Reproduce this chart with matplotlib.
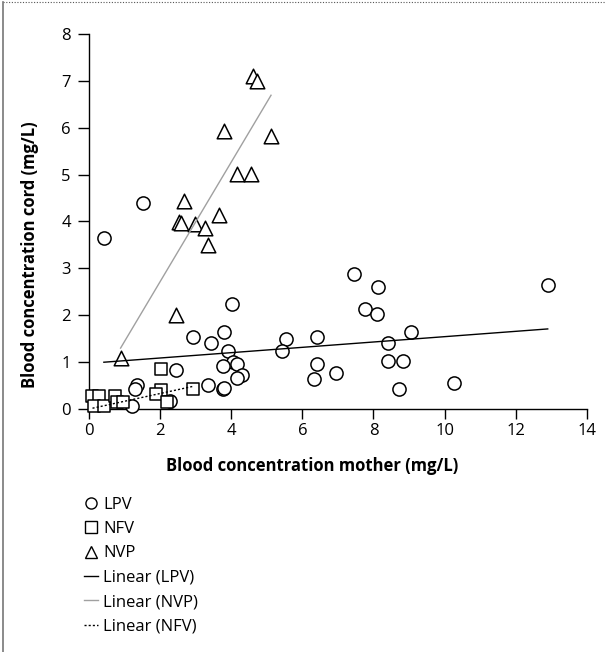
import numpy as np
import matplotlib
matplotlib.use("Agg")
import matplotlib.pyplot as plt
from matplotlib.lines import Line2D

plt.rcParams['font.family'] = ['Open Sans', 'DejaVu Sans']

# LPV: mother vs cord blood concentration (mg/L)
lpv_mother = [0.42, 1.53, 4.03, 2.93, 3.44, 3.81, 3.91, 4.04, 4.15, 3.76, 4.30, 4.15,
              2.44, 3.34, 3.76, 3.81, 1.36, 1.30, 2.28, 1.21, 5.55, 5.44, 6.41, 6.42,
              6.33, 6.94, 7.44, 8.14, 7.76, 8.11, 12.9, 9.05, 8.41, 8.41, 8.83, 8.73, 10.26]
lpv_cord = [3.64, 4.39, 2.24, 1.53, 1.40, 1.65, 1.24, 1.01, 0.96, 0.92, 0.73, 0.66,
            0.83, 0.51, 0.43, 0.45, 0.52, 0.43, 0.18, 0.07, 1.49, 1.24, 1.53, 0.96,
            0.63, 0.76, 2.89, 2.61, 2.13, 2.03, 2.64, 1.65, 1.41, 1.03, 1.03, 0.43, 0.55]

# NFV
nfv_mother = [0.10, 0.27, 0.15, 0.43, 0.74, 0.78, 0.96, 2.04, 2.04, 1.88, 2.20, 2.92]
nfv_cord = [0.27, 0.27, 0.06, 0.06, 0.27, 0.14, 0.14, 0.85, 0.40, 0.31, 0.14, 0.42]

# NVP
nvp_mother = [4.61, 4.73, 3.81, 5.12, 4.15, 4.56, 2.67, 3.66, 2.52, 2.59, 2.99, 3.27,
              3.34, 2.45, 0.89]
nvp_cord = [7.10, 7.00, 5.93, 5.82, 5.02, 5.02, 4.44, 4.13, 3.99, 3.96, 3.94, 3.86,
            3.50, 2.01, 1.08]

# linear trendlines (slope, intercept) as shown
fit_lpv = (0.0569, 0.974)
fit_nvp = (1.275, 0.165)
fit_nfv = (0.165, 0.0)

fig = plt.figure(figsize=(6.05, 6.52), dpi=100)
ax = fig.add_axes([0.147, 0.3727, 0.823, 0.5752])

mk = dict(facecolor='white', edgecolor='black', linewidths=1.1, zorder=3, clip_on=False)
ax.scatter(lpv_mother, lpv_cord, marker='o', s=90, **mk)
ax.scatter(nfv_mother, nfv_cord, marker='s', s=85, **mk)
ax.scatter(nvp_mother, nvp_cord, marker='^', s=110, **mk)


def trend(xs, fit, **kw):
    xx = np.array([min(xs), max(xs)])
    ax.plot(xx, fit[0] * xx + fit[1], zorder=4, clip_on=False, **kw)


trend(lpv_mother, fit_lpv, color='black', lw=1.0)
trend(nvp_mother, fit_nvp, color='#a0a0a0', lw=1.0)
trend(nfv_mother, fit_nfv, color='black', lw=1.0, ls=(0, (1.5, 1.5)))

ax.set_xlim(0, 14)
ax.set_ylim(0, 8)
ax.set_xticks(range(0, 15, 2))
ax.set_yticks(range(0, 9))
for s in ['top', 'right']:
    ax.spines[s].set_visible(False)
for s in ['left', 'bottom']:
    ax.spines[s].set_linewidth(1.0)
ax.tick_params(axis='y', direction='out', length=8, width=1.0, labelsize=12, pad=5)
ax.tick_params(axis='x', direction='out', length=7, width=1.0, labelsize=12, pad=3)
ax.set_xlabel('Blood concentration mother (mg/L)', fontsize=12, fontweight='bold', va='center')
ax.set_ylabel('Blood concentration cord (mg/L)', fontsize=12, fontweight='bold', va='center')
ax.xaxis.set_label_coords(0.448, -0.152)
ax.yaxis.set_label_coords(-0.118, 0.411)

handles = [
    Line2D([], [], marker='o', ls='none', mfc='white', mec='black', ms=8, mew=1.0),
    Line2D([], [], marker='s', ls='none', mfc='white', mec='black', ms=8, mew=1.0),
    Line2D([], [], marker='^', ls='none', mfc='white', mec='black', ms=8, mew=1.0),
    Line2D([], [], color='black', lw=1.0),
    Line2D([], [], color='#a0a0a0', lw=1.0),
    Line2D([], [], color='black', lw=1.0, ls=(0, (1.5, 1.5))),
]
labels = ['LPV', 'NFV', 'NVP', 'Linear (LPV)', 'Linear (NVP)', 'Linear (NFV)']
fig.legend(handles, labels, loc='upper left', bbox_to_anchor=(0.139, 0.238),
           frameon=False, fontsize=12, handlelength=0.85, handletextpad=0.3,
           labelspacing=0.5, borderpad=0, borderaxespad=0)

# frame pieces around the figure
fig.add_artist(Line2D([0.005, 1.0], [0.997, 0.997], transform=fig.transFigure,
                      color='#555555', lw=0.8, ls=(0, (1, 1.5))))
fig.add_artist(Line2D([0.005, 0.005], [0.0, 0.997], transform=fig.transFigure,
                      color='#777777', lw=1.2))

fig.savefig('out.png', dpi=100)
